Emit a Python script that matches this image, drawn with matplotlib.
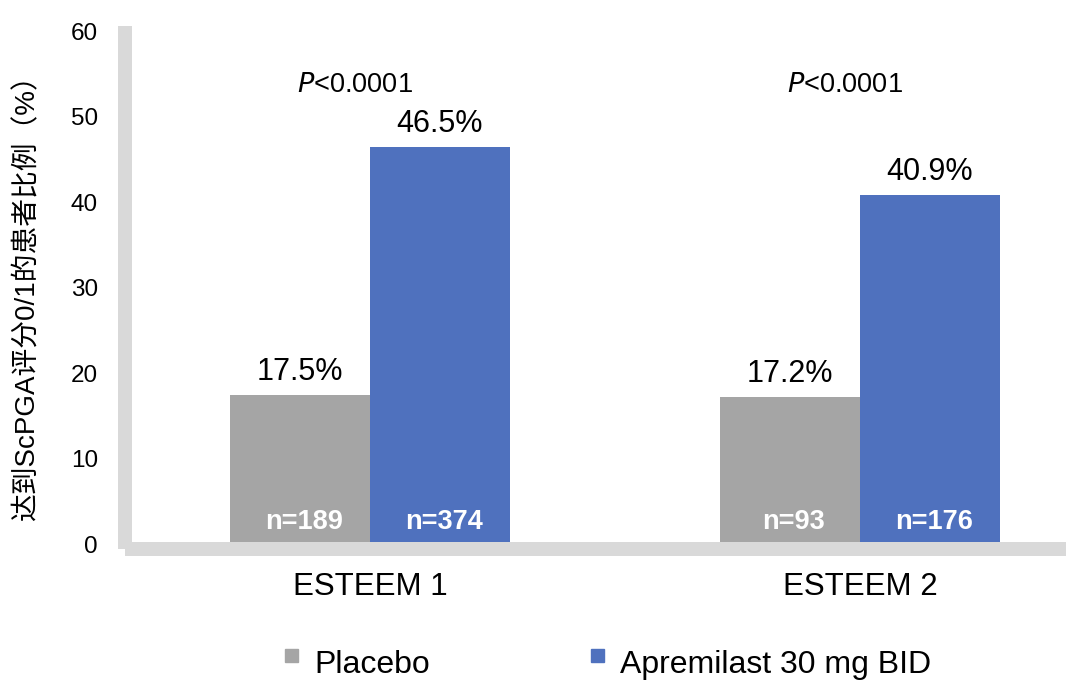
import matplotlib
matplotlib.use("Agg")
import matplotlib.pyplot as plt
import matplotlib.patches as mpatches
from matplotlib.legend_handler import HandlerPatch
import numpy as np

plt.rcParams['font.family'] = ['Liberation Sans', 'Noto Sans CJK SC', 'DejaVu Sans']

# ---- data ----
studies = ["ESTEEM 1", "ESTEEM 2"]
series_names = ["Placebo", "Apremilast 30 mg BID"]
placebo = [17.5, 17.2]
apremilast = [46.5, 40.9]
placebo_n = ["n=189", "n=93"]
apremilast_n = ["n=374", "n=176"]
p_values = ["$\\it{P}$<0.0001", "$\\it{P}$<0.0001"]
yticks = [0, 10, 20, 30, 40, 50, 60]
ylabel = "达到ScPGA评分0/1的患者比例（%）"

c_placebo = "#A5A5A5"
c_apr = "#4F71BE"
spine_c = "#D9D9D9"

W, H = 1080, 693
fig = plt.figure(figsize=(W / 100, H / 100), dpi=100)
ax = fig.add_axes([132 / W, 1 - 544.5 / H, (1066 - 132) / W, (544.5 - 26) / H])

x = np.arange(len(studies))
bw = 140 / 490
b1 = ax.bar(x - bw / 2, placebo, bw, color=c_placebo, zorder=1)
b2 = ax.bar(x + bw / 2, apremilast, bw, color=c_apr, zorder=1)

ax.set_xlim(-0.4857, 1.4204)
ax.set_ylim(0, 60.63)

# value labels above bars
for xi, v in zip(x - bw / 2, placebo):
    ax.annotate(f"{v}%", (xi, v), xytext=(0, 10.8), textcoords="offset points",
                ha="center", va="baseline", fontsize=22, color="black")
for xi, v in zip(x + bw / 2, apremilast):
    ax.annotate(f"{v}%", (xi, v), xytext=(0, 10.8), textcoords="offset points",
                ha="center", va="baseline", fontsize=22, color="black")

# n labels inside bars
for xi, t in zip(x - bw / 2, placebo_n):
    ax.text(xi + 0.008, 1.8, t, ha="center", va="baseline", fontsize=19.5,
            fontweight="bold", color="white", zorder=3)
for xi, t in zip(x + bw / 2, apremilast_n):
    ax.text(xi + 0.008, 1.8, t, ha="center", va="baseline", fontsize=19.5,
            fontweight="bold", color="white", zorder=3)

# p-values
for xi, t in zip(x, p_values):
    ax.text(xi - 0.03, 52.95, t, ha="center", va="baseline", fontsize=19.5, color="black")

# axes styling
for s in ["top", "right"]:
    ax.spines[s].set_visible(False)
for s in ["left", "bottom"]:
    ax.spines[s].set_color(spine_c)
    ax.spines[s].set_linewidth(10.08)
    ax.spines[s].set_capstyle("butt")
ax.spines["left"].set_position(("outward", 5.4))
ax.spines["bottom"].set_position(("outward", 3.24))
ax.spines["left"].set_bounds(-0.526, 60.63)
ax.spines["bottom"].set_bounds(-0.501, 1.4204)

ax.set_yticks(yticks)
ax.set_yticklabels([str(t) for t in yticks])
ax.set_xticks(x)
ax.set_xticklabels(studies)
ax.tick_params(axis="y", length=0, pad=19, labelsize=17.5, labelcolor="black")
ax.tick_params(axis="x", length=0, pad=16.5, labelsize=22.5, labelcolor="black")

fig.text(27.5 / W, 1 - 291.5 / H, ylabel, rotation=90, ha="center", va="center",
         fontsize=20, color="black", family=['Liberation Sans', 'Noto Sans CJK SC'])

# legend
fs_leg = 23
sq = 9.4


def square(legend, orig_handle, xdescent, ydescent, width, height, fontsize):
    return mpatches.Rectangle((-xdescent, 8.1), sq, sq)


handles = [mpatches.Patch(color=c_placebo), mpatches.Patch(color=c_apr)]
leg = fig.legend(handles, series_names, loc="lower left",
                 bbox_to_anchor=(285 / W, 1 - 680 / H), bbox_transform=fig.transFigure,
                 ncol=2, frameon=False, fontsize=fs_leg, borderpad=0, borderaxespad=0,
                 handlelength=sq / fs_leg, handleheight=0.7, handletextpad=0.5,
                 columnspacing=5.05,
                 handler_map={mpatches.Patch: HandlerPatch(patch_func=square)})

fig.savefig("out.png", dpi=100)
